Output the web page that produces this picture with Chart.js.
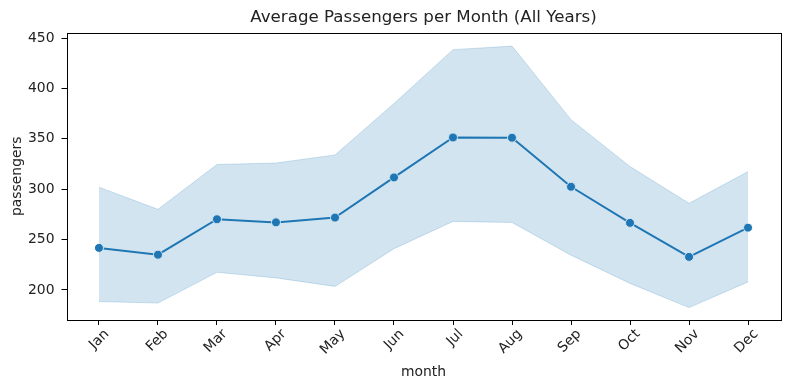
<!DOCTYPE html>
<html>
<head>
<meta charset="utf-8">
<script src="https://cdn.jsdelivr.net/npm/chart.js@4.4.0/dist/chart.umd.min.js"></script>
<style>
  html, body { margin: 0; padding: 0; background: #fff; }
  #wrap { width: 790px; height: 390px; }
</style>
</head>
<body>
<div id="wrap"><canvas id="myChart" width="790" height="390"></canvas></div>
<script>
// data
const months = ['Jan', 'Feb', 'Mar', 'Apr', 'May', 'Jun', 'Jul', 'Aug', 'Sep', 'Oct', 'Nov', 'Dec'];
const avgPassengers = [241.75, 235.0, 270.17, 267.08, 271.83, 311.67, 351.33, 351.08, 302.42, 266.58, 232.83, 261.83];
const ciUpper = [302, 280, 324.5, 326, 334, 385, 438.5, 442, 369, 322.5, 286, 317.5];
const ciLower = [188.5, 187, 217.5, 212, 203.5, 241, 268, 267, 234.5, 206.5, 182.5, 208];
const yTicks = [200, 250, 300, 350, 400, 450];

const blue = '#1f77b4';
const bandFill = 'rgba(31,119,180,0.2)';
const textColor = '#222';
const font = 'DejaVu Sans';

const toXY = arr => arr.map((v, i) => ({ x: i, y: v }));

// draws all four spines like matplotlib
const frame = {
    id: 'frame',
    afterDatasetsDraw(chart) {
        const a = chart.chartArea;
        const c = chart.ctx;
        c.save();
        c.strokeStyle = '#000';
        c.lineWidth = 1;
        c.strokeRect(Math.round(a.left) + 0.5, Math.round(a.top) + 0.5,
            Math.round(a.right - a.left), Math.round(a.bottom - a.top));
        c.restore();
    }
};

const ctx = document.getElementById('myChart').getContext('2d');
new Chart(ctx, {
    type: 'line',
    data: {
        datasets: [
            {
                label: 'upper',
                data: toXY(ciUpper),
                borderColor: bandFill,
                borderWidth: 1,
                backgroundColor: bandFill,
                pointRadius: 0,
                fill: '+1',
                tension: 0
            },
            {
                label: 'lower',
                data: toXY(ciLower),
                borderColor: bandFill,
                borderWidth: 1,
                pointRadius: 0,
                fill: false,
                tension: 0
            },
            {
                label: 'passengers',
                data: toXY(avgPassengers),
                borderColor: blue,
                borderWidth: 2,
                backgroundColor: blue,
                pointBackgroundColor: blue,
                pointBorderColor: '#fff',
                pointBorderWidth: 1,
                pointRadius: 4.5,
                fill: false,
                tension: 0
            }
        ]
    },
    options: {
        responsive: false,
        animation: false,
        layout: { padding: { top: 0, left: 0, right: 9.5, bottom: 0 } },
        plugins: {
            legend: { display: false },
            tooltip: { enabled: false },
            title: {
                display: true,
                text: 'Average Passengers per Month (All Years)',
                fullSize: false,
                color: textColor,
                font: { family: font, size: 16.67, weight: 'normal' },
                padding: { top: 8, bottom: 4.5 }
            }
        },
        scales: {
            x: {
                type: 'linear',
                min: -0.55,
                max: 11.55,
                afterBuildTicks: s => { s.ticks = months.map((m, i) => ({ value: i })); },
                afterFit: s => { s.height = 70; },
                grid: { drawOnChartArea: false, drawTicks: true, tickLength: 5, color: '#000' },
                border: { display: false },
                ticks: {
                    callback: v => months[v],
                    color: textColor,
                    font: { family: font, size: 13.9 },
                    minRotation: 45,
                    maxRotation: 45,
                    autoSkip: false,
                    labelOffset: 8,
                    padding: 1
                },
                title: {
                    display: true,
                    text: 'month',
                    color: textColor,
                    font: { family: font, size: 13.9 },
                    padding: { top: 0, bottom: 9.5 }
                }
            },
            y: {
                min: 170.2,
                max: 455.5,
                afterBuildTicks: s => { s.ticks = yTicks.map(v => ({ value: v })); },
                afterFit: s => { s.width = 66.5; },
                grid: { drawOnChartArea: false, drawTicks: true, tickLength: 5, color: '#000' },
                border: { display: false },
                ticks: {
                    color: textColor,
                    font: { family: font, size: 13.9 },
                    padding: 7
                },
                title: {
                    display: true,
                    text: 'passengers',
                    color: textColor,
                    font: { family: font, size: 13.9 },
                    padding: { top: 9, bottom: 0 }
                }
            }
        }
    },
    plugins: [frame]
});
</script>
</body>
</html>
